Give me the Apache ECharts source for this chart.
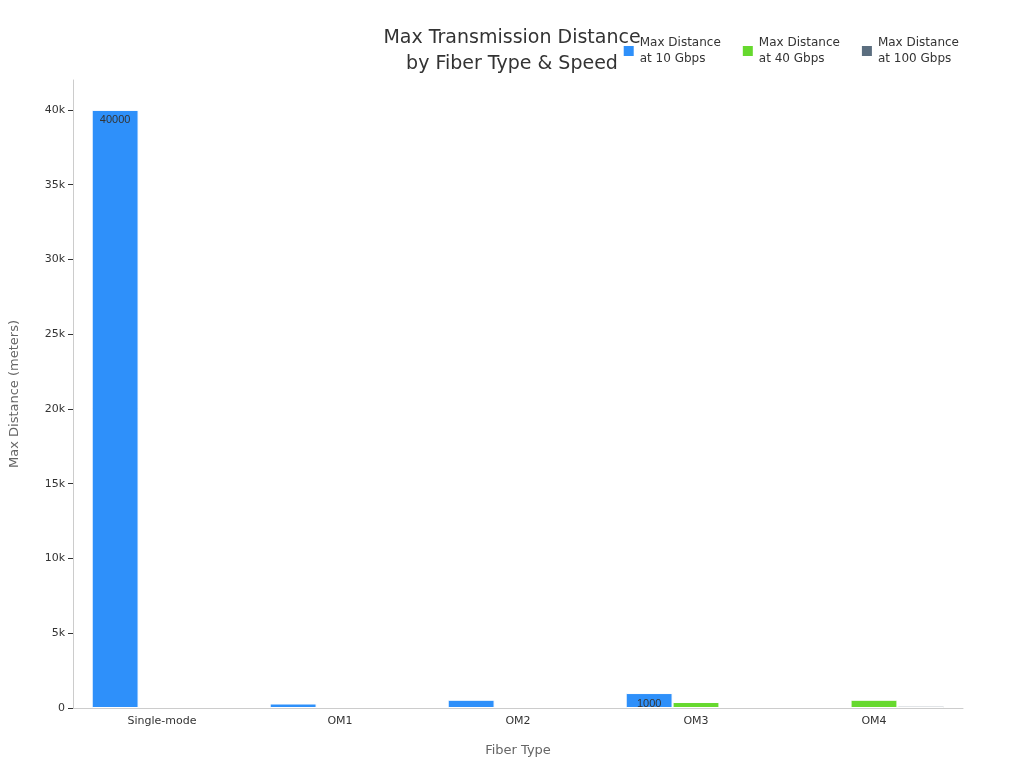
<!DOCTYPE html><html><head><meta charset="utf-8"><script src="https://cdn.jsdelivr.net/npm/echarts@6/dist/echarts.min.js"></script></head><body style="margin:0"><div id="c" style="width:1024px;height:768px"></div><script>
const categories=['Single-mode','OM1','OM2','OM3','OM4'];
const s10=[40000,300,550,1000,null];
const s40=[null,null,null,400,550];
const s100=[null,null,null,null,150];
const names=['Max Distance\nat 10 Gbps','Max Distance\nat 40 Gbps','Max Distance\nat 100 Gbps'];
const colors=['#2E90FA','#66D92E','#5B6E7F'];
const mk=(n,d,c)=>({name:n,type:'bar',data:d,barGap:'0%',barCategoryGap:'21%',itemStyle:{color:c,borderColor:'#fff',borderWidth:1},
 label:{show:true,position:'insideTop',fontSize:11,color:'#333',formatter:p=>p.value>=1000?p.value:''}});
const ch=echarts.init(document.getElementById('c'));
ch.setOption({
 title:{text:'Max Transmission Distance\nby Fiber Type & Speed',left:'center',top:20,textStyle:{fontSize:19,fontWeight:'normal',color:'#333',lineHeight:26,fontFamily:'DejaVu Sans'}},
 legend:{top:30,right:60,itemWidth:12,itemHeight:12,itemGap:20,textStyle:{fontSize:12,color:'#333',fontFamily:'DejaVu Sans',lineHeight:16},data:names.map((n,i)=>({name:n,icon:'rect'}))},
 grid:{left:68,right:61,top:80,bottom:60},
 xAxis:{type:'category',data:categories,name:'Fiber Type',nameLocation:'middle',nameGap:36,nameTextStyle:{fontSize:13,color:'#666',fontFamily:'DejaVu Sans'},axisLine:{lineStyle:{color:'#ccc'}},axisTick:{alignWithLabel:true,lineStyle:{color:'#333'}},axisLabel:{color:'#333',fontSize:11,fontFamily:'DejaVu Sans'}},
 yAxis:{type:'value',min:0,max:42000,interval:5000,name:'Max Distance (meters)',nameLocation:'middle',nameGap:52,nameTextStyle:{fontSize:13,color:'#666',fontFamily:'DejaVu Sans'},splitLine:{show:false},axisLine:{show:true,lineStyle:{color:'#ccc'}},axisTick:{show:true,lineStyle:{color:'#333'}},
  axisLabel:{color:'#333',fontSize:11,fontFamily:'DejaVu Sans',formatter:v=>v===0?'0':(v/1000)+'k',showMaxLabel:false}},
 series:[mk(names[0],s10,colors[0]),mk(names[1],s40,colors[1]),mk(names[2],s100,colors[2])]
});
</script></body></html>
